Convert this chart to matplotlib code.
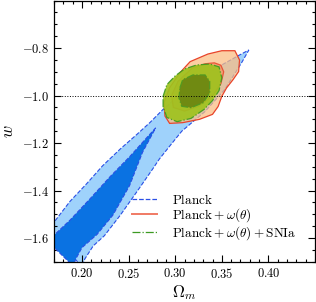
import matplotlib
matplotlib.use("Agg")
import matplotlib.pyplot as plt

plt.rcParams['font.family'] = 'serif'
plt.rcParams['font.serif'] = ['cmr10', 'DejaVu Serif']
plt.rcParams['mathtext.fontset'] = 'cm'
plt.rcParams['axes.formatter.use_mathtext'] = True
plt.rcParams['axes.unicode_minus'] = True

# contour outlines, (Omega_m, w)
planck_2s_om = [0.165, 0.170, 0.187, 0.205, 0.222, 0.241, 0.259, 0.273, 0.287, 0.305, 0.326, 0.348, 0.369, 0.379,
                0.371, 0.353, 0.332, 0.307, 0.294, 0.283, 0.276, 0.259, 0.241, 0.224, 0.212, 0.203, 0.200]
planck_2s_w = [-1.570, -1.533, -1.446, -1.371, -1.296, -1.225, -1.163, -1.113, -1.058, -0.996, -0.933, -0.875, -0.829, -0.808,
               -0.863, -0.975, -1.067, -1.150, -1.213, -1.267, -1.308, -1.404, -1.504, -1.590, -1.633, -1.688, -1.720]
planck_1s_om = [0.165, 0.170, 0.187, 0.209, 0.230, 0.251, 0.270, 0.279,
                0.265, 0.251, 0.233, 0.216, 0.200, 0.193, 0.191]
planck_1s_w = [-1.620, -1.588, -1.525, -1.433, -1.342, -1.258, -1.175, -1.136,
               -1.238, -1.379, -1.504, -1.585, -1.640, -1.690, -1.720]

wth_2s_om = [0.316, 0.335, 0.350, 0.364, 0.369, 0.368, 0.362, 0.355, 0.350, 0.346, 0.340, 0.326, 0.308, 0.294,
             0.289, 0.288, 0.294, 0.305]
wth_2s_w = [-0.857, -0.825, -0.811, -0.811, -0.850, -0.899, -0.933, -0.968, -1.003, -1.046, -1.079, -1.100, -1.114, -1.117,
            -1.086, -1.029, -0.967, -0.904]
wth_1s_om = [0.318, 0.332, 0.342, 0.349, 0.352, 0.349, 0.340, 0.325, 0.310, 0.298, 0.296, 0.303]
wth_1s_w = [-0.885, -0.866, -0.862, -0.872, -0.900, -0.950, -1.000, -1.045, -1.065, -1.050, -1.000, -0.940]

sn_2s_om = [0.287, 0.291, 0.300, 0.310, 0.323, 0.337, 0.347, 0.350, 0.347, 0.340, 0.331, 0.317, 0.302, 0.291, 0.287]
sn_2s_w = [-1.003, -0.954, -0.917, -0.888, -0.871, -0.867, -0.879, -0.925, -0.979, -1.021, -1.058, -1.096, -1.110, -1.092, -1.046]
sn_1s_om = [0.305, 0.308, 0.319, 0.332, 0.337, 0.337, 0.330, 0.317, 0.307, 0.304]
sn_1s_w = [-0.967, -0.933, -0.913, -0.913, -0.940, -0.989, -1.030, -1.051, -1.045, -1.010]

labels = ['$\\mathrm{Planck}$', '$\\mathrm{Planck}+\\omega(\\theta)$', '$\\mathrm{Planck}+\\omega(\\theta)+\\mathrm{SNIa}$']

fig = plt.figure(figsize=(3.16, 3.02), dpi=100)
ax = fig.add_axes([0.171, 0.133, 0.826, 0.865])

# Planck
ax.fill(planck_2s_om, planck_2s_w, facecolor='#9fd2fb', edgecolor='#2a4fe6', ls='--', lw=0.8, zorder=1)
ax.fill(planck_1s_om, planck_1s_w, facecolor='#0a72e2', edgecolor='#2a4fe6', ls='--', lw=0.8, zorder=2)
# Planck + w(theta)
ax.fill(wth_2s_om, wth_2s_w, facecolor='#fcbd81', alpha=0.73, edgecolor='none', zorder=3)
ax.fill(wth_2s_om, wth_2s_w, facecolor='none', edgecolor='#e8442a', lw=0.9, zorder=3)
ax.fill(wth_1s_om, wth_1s_w, facecolor='#f29a68', alpha=0.85, edgecolor='#e8442a', lw=0.9, zorder=4)
# Planck + w(theta) + SNIa
ax.fill(sn_2s_om, sn_2s_w, facecolor='#9fc21e', alpha=0.92, edgecolor='#3d9a22', ls='-.', lw=0.9, zorder=5)
ax.fill(sn_1s_om, sn_1s_w, facecolor='#6d8812', alpha=0.95, edgecolor='#4f9a22', ls='-.', lw=0.9, zorder=6)

ax.axhline(-1.0, color='black', ls=':', lw=0.7, zorder=7)

# legend proxies
ax.plot([], [], color='#2a4fe6', ls='--', lw=0.9, label=labels[0])
ax.plot([], [], color='#f07a64', ls='-', lw=1.4, label=labels[1])
ax.plot([], [], color='#3d9a22', ls='-.', lw=0.9, label=labels[2])
ax.legend(loc='lower left', bbox_to_anchor=(0.298, 0.075), frameon=False, fontsize=9.5, labelspacing=0.0,
          handlelength=1.9, handletextpad=1.15, borderaxespad=0.0, borderpad=0.0)

ax.set_xlim(0.17, 0.45)
ax.set_ylim(-1.7, -0.6)
ax.set_xticks([0.20, 0.25, 0.30, 0.35, 0.40])
ax.set_yticks([-1.6, -1.4, -1.2, -1.0, -0.8])
ax.xaxis.set_major_formatter(matplotlib.ticker.FormatStrFormatter('$%.2f$'))
ax.yaxis.set_major_formatter(matplotlib.ticker.FuncFormatter(lambda v, p: '$%.1f$' % v if v >= 0 else '$-%.1f$' % -v))
ax.xaxis.set_minor_locator(matplotlib.ticker.MultipleLocator(0.01))
ax.yaxis.set_minor_locator(matplotlib.ticker.MultipleLocator(0.05))
ax.tick_params(which='both', direction='in', top=True, right=True, labelsize=9, width=0.8)
ax.tick_params(which='major', length=5)
ax.tick_params(which='minor', length=2.5)
for s in ax.spines.values():
    s.set_linewidth(0.9)

ax.set_xlabel('$\\Omega_m$', fontsize=12, labelpad=2)
ax.set_ylabel('$w$', fontsize=12, labelpad=4)

fig.savefig('out.png', dpi=100)
